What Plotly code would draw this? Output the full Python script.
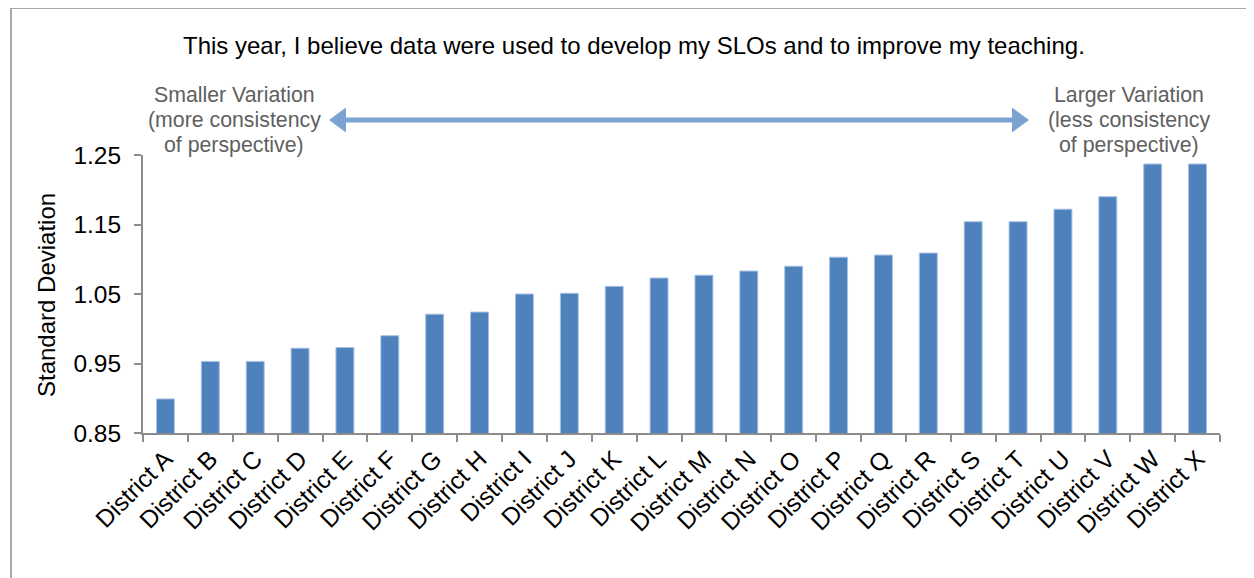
import plotly.graph_objects as go

districts = ["District " + c for c in "ABCDEFGHIJKLMNOPQRSTUVWX"]
std_dev = [0.899, 0.953, 0.953, 0.972, 0.973, 0.990, 1.021, 1.024, 1.050, 1.051,
           1.061, 1.073, 1.077, 1.083, 1.090, 1.103, 1.106, 1.109, 1.154, 1.154,
           1.172, 1.190, 1.237, 1.237]
y_ticks = [0.85, 0.95, 1.05, 1.15, 1.25]
y_tick_text = ["0.85", "0.95", "1.05", "1.15", "1.25"]
left_note = ["Smaller Variation", "(more consistency", "of perspective)"]
right_note = ["Larger Variation", "(less consistency", "of perspective)"]

# the page body has an 8px margin, so the figure is sized/positioned accordingly
OFF = 8
W, H = 1254 - OFF, 578 - OFF
L, R, T, B = 143 - OFF, 34, 155 - OFF, 145
PW, PH = W - L - R, H - T - B

def px(x):
    return (x - OFF - L) / PW

def py(y):
    return (H - B - (y - OFF)) / PH

FONT = "Liberation Sans, Arial, Helvetica, sans-serif"
GRAY = "#8c8c8c"
ARROW = "#7ba2d1"

fig = go.Figure(go.Bar(
    x=districts, y=std_dev,
    marker=dict(color="#4f81bd", line=dict(color="#a8c2e3", width=1)),
    hoverinfo="x+y",
))

shapes = [
    dict(type="line", xref="paper", yref="paper", x0=px(11), x1=px(11), y0=py(8), y1=py(600),
         line=dict(color=GRAY, width=1.5)),
    dict(type="line", xref="paper", yref="paper", x0=px(11), x1=px(1270), y0=py(8), y1=py(8),
         line=dict(color=GRAY, width=1.5)),
    dict(type="line", xref="paper", yref="paper", x0=px(343), x1=px(1015), y0=py(120), y1=py(120),
         line=dict(color=ARROW, width=5)),
    dict(type="path", xref="paper", yref="paper",
         path=f"M {px(329)} {py(120)} L {px(346)} {py(107.5)} L {px(346)} {py(132.5)} Z",
         fillcolor=ARROW, line=dict(width=0)),
    dict(type="path", xref="paper", yref="paper",
         path=f"M {px(1029)} {py(120)} L {px(1012)} {py(107.5)} L {px(1012)} {py(132.5)} Z",
         fillcolor=ARROW, line=dict(width=0)),
]

annotations = [
    dict(text="This year, I believe data were used to develop my SLOs and to improve my teaching.",
         xref="paper", yref="paper", x=px(634), y=py(45), showarrow=False,
         font=dict(family=FONT, size=24, color="#000000"), xanchor="center", yanchor="middle"),
    dict(text="Standard Deviation", textangle=-90,
         xref="paper", yref="paper", x=px(46), y=py(295), showarrow=False,
         font=dict(family=FONT, size=24, color="#000000"), xanchor="center", yanchor="middle"),
]
for i, (lt, rt) in enumerate(zip(left_note, right_note)):
    ly = 95 + 25 * i
    annotations.append(dict(text=lt, xref="paper", yref="paper", x=px(234), y=py(ly),
                            showarrow=False, xanchor="center", yanchor="middle",
                            font=dict(family=FONT, size=21.3, color="#606060")))
    annotations.append(dict(text=rt, xref="paper", yref="paper", x=px(1129), y=py(ly),
                            showarrow=False, xanchor="center", yanchor="middle",
                            font=dict(family=FONT, size=21.3, color="#606060")))

fig.update_layout(
    width=W, height=H,
    margin=dict(l=L, r=R, t=T, b=B, autoexpand=False),
    paper_bgcolor="white", plot_bgcolor="white",
    bargap=0.6,
    showlegend=False,
    shapes=shapes,
    annotations=annotations,
    font=dict(family=FONT, color="#000000"),
)
fig.update_xaxes(
    type="category", tickson="boundaries",
    showline=True, linecolor=GRAY, linewidth=2,
    ticks="outside", ticklen=7, tickcolor=GRAY, tickwidth=2,
    tickangle=-45, tickfont=dict(family=FONT, size=24.5, color="#000000"),
    showgrid=False, zeroline=False,
)
fig.update_yaxes(
    range=[0.85, 1.25], tickvals=y_ticks, ticktext=y_tick_text,
    showline=True, linecolor=GRAY, linewidth=2,
    ticks="outside", ticklen=7, tickcolor=GRAY, tickwidth=2,
    tickfont=dict(family=FONT, size=24.5, color="#000000"),
    ticklabelstandoff=8,
    showgrid=False, zeroline=False,
)

fig.write_html("out.html")
